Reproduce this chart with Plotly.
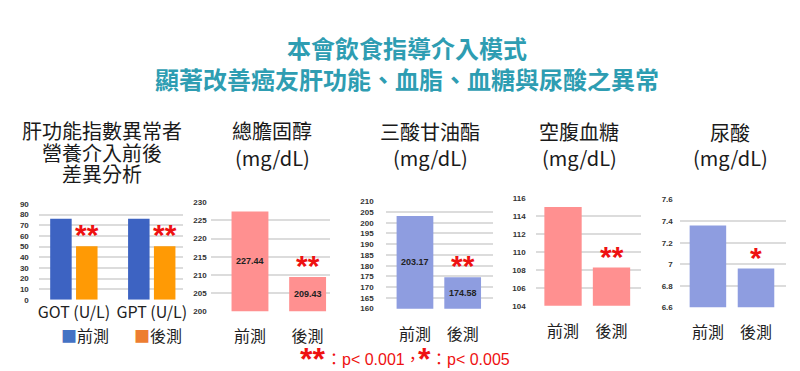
import plotly.graph_objects as go

W, H = 800, 371

# ---------------- data ----------------
liver_categories = ["GOT (U/L)", "GPT (U/L)"]
liver_pre = [76.0, 76.0]
liver_post = [50.4, 50.2]

phase_labels = ["前測", "後測"]
cholesterol = [227.44, 209.43]
triglyceride = [203.17, 174.58]
glucose = [115.0, 108.25]
uric_acid = [7.36, 6.96]

legend_names = ["前測", "後測"]
main_title = ["本會飲食指導介入模式", "顯著改善癌友肝功能、血脂、血糖與尿酸之異常"]
panel_titles = [
    ["肝功能指數異常者", "營養介入前後", "差異分析"],
    ["總膽固醇", "(mg/dL)"],
    ["三酸甘油酯", "(mg/dL)"],
    ["空腹血糖", "(mg/dL)"],
    ["尿酸", "(mg/dL)"],
]
sig_marks = ["**", "**", "**", "**", "*"]
footnote_marks = ["**", "*"]
footnote_texts = ["：p&lt; 0.001，", "：p&lt; 0.005"]

# ---------------- styling ----------------
CJK = "Noto Sans CJK TC"
TICKFONT = dict(family="Liberation Sans", size=8, color="#333333", weight="bold")
GRID = "#dcdcdc"
RED = "#ee1111"
TEAL = "#2e9db2"

def fx(px):
    return px / W

def fy(py):
    return 1 - py / H

fig = go.Figure()

# panel 1: grouped bars
fig.add_trace(go.Bar(x=liver_categories, y=liver_pre, name=legend_names[0],
                     marker=dict(color="#3d63c2", line=dict(width=0)),
                     width=0.276, offset=-0.304, xaxis="x", yaxis="y", showlegend=False))
fig.add_trace(go.Bar(x=liver_categories, y=liver_post, name=legend_names[1],
                     marker=dict(color="#ff9a05", line=dict(width=0)),
                     width=0.276, offset=0.028, xaxis="x", yaxis="y", showlegend=False))

pink = "#ff9090"
lav = "#8e9de0"
single = [
    (cholesterol, [pink, pink], 0.64),
    (triglyceride, [lav, lav], 0.77),
    (glucose, [pink, pink], 0.77),
    (uric_acid, [lav, lav], 0.76),
]
for i, (vals, cols, wd) in enumerate(single, start=2):
    fig.add_trace(go.Bar(
        x=phase_labels, y=vals, width=wd,
        marker=dict(color=cols, line=dict(width=0)),
        xaxis=f"x{i}", yaxis=f"y{i}", showlegend=False,
    ))

# axes geometry (pixels) : x-domain, x-range, y-domain(bottom,top), y-range, dtick, y standoff, x standoff
axes = [
    ((30, 175), (-0.45, 1.40), (295, 196.7), (0, 90), 10, 9, 1),
    ((203, 323), (-0.681, 1.388), (306.7, 195), (200, 230), 5, 3, 14),
    ((379, 487), (-0.615, 1.635), (304, 194), (160, 210), 5, 11, 14),
    ((530, 636), (-0.564, 1.609), (301, 190.7), (104, 116), 2, 9, 14),
    ((675, 781.7), (-0.585, 1.62), (302.7, 192.3), (6.6, 7.6), 0.2, 6, 14),
]

layout = dict(
    width=W, height=H, margin=dict(l=0, r=0, t=0, b=0),
    paper_bgcolor="white", plot_bgcolor="white",
    barmode="overlay", showlegend=False,
    font=dict(family=CJK, color="#1a1a1a"),
)
for i, (xd, xr, yd, yr, dt, ysoff, xsoff) in enumerate(axes, start=1):
    sx = "" if i == 1 else str(i)
    layout[f"xaxis{sx}"] = dict(
        domain=[fx(xd[0]), fx(xd[1])], range=list(xr), anchor=f"y{sx}",
        showgrid=False, zeroline=False, showline=False, ticks="",
        tickfont=dict(family=CJK, size=16, color="#222222"),
        ticklabelstandoff=xsoff, fixedrange=True,
    )
    layout[f"yaxis{sx}"] = dict(
        domain=[fy(yd[0]), fy(yd[1])], range=list(yr), anchor=f"x{sx}",
        dtick=dt, tick0=yr[0], showgrid=True, gridcolor=GRID, gridwidth=2,
        zeroline=False, showline=False, ticks="",
        tickfont=TICKFONT, ticklabelstandoff=ysoff, fixedrange=True,
    )
fig.update_layout(**layout)

ann = []
# main title
for text, py in zip(main_title, [36, 68]):
    ann.append(dict(text=f"<b>{text}</b>", x=0.5, y=fy(py), xref="paper", yref="paper",
                    xanchor="center", yanchor="middle", showarrow=False,
                    font=dict(family=CJK, size=24, color=TEAL)))
# panel titles
title_pos = [
    (94, [121, 144, 166]),
    (265, [121, 149]),
    (424, [122, 149]),
    (574, [122, 149]),
    (726, [123, 149]),
]
for lines, (cx, ys) in zip(panel_titles, title_pos):
    for t, py in zip(lines, ys):
        ann.append(dict(text=t, x=fx(cx), y=fy(py), xref="paper", yref="paper",
                        xanchor="center", yanchor="middle", showarrow=False,
                        font=dict(family=CJK, size=20, color="#1a1a1a")))
# value labels inside the bars (centre of the visible part of each bar)
for ax_i, vals in [(2, cholesterol), (3, triglyceride)]:
    base = axes[ax_i - 1][3][0]
    for k, v in enumerate(vals):
        ann.append(dict(text=f"<b>{v:.2f}</b>", x=k, y=(base + v) / 2,
                        xref=f"x{ax_i}", yref=f"y{ax_i}", xanchor="center", yanchor="middle",
                        showarrow=False,
                        font=dict(family="Liberation Sans", size=9, color="#222222")))
# significance marks
sig_targets = [
    ("x", "y", 0.166, liver_post[0]),
    ("x", "y", 1.166, liver_post[1]),
    ("x2", "y2", 1, cholesterol[1]),
    ("x3", "y3", 1, triglyceride[1]),
    ("x4", "y4", 1, glucose[1]),
    ("x5", "y5", 1, uric_acid[1]),
]
sig_for = [sig_marks[0], sig_marks[0], sig_marks[1], sig_marks[2], sig_marks[3], sig_marks[4]]
for (xr_, yr_, xv, yv), mk in zip(sig_targets, sig_for):
    ann.append(dict(text=f"<b>{mk}</b>", x=xv, y=yv, xref=xr_, yref=yr_,
                    xanchor="center", yanchor="bottom", yshift=-7, showarrow=False,
                    font=dict(family="Liberation Sans", size=30, color=RED)))
# legend (panel 1)
for name, col, px in zip(legend_names, ["#4472c4", "#ed7d31"], [50, 124]):
    ann.append(dict(text=f"<span style='color:{col}'>■</span>{name}", x=fx(px), y=fy(331),
                    xref="paper", yref="paper", xanchor="left", yanchor="middle",
                    showarrow=False, font=dict(family=CJK, size=16, color="#222222")))
# footnote: significance legend
for mk, cx in zip(footnote_marks, [305, 418]):
    ann.append(dict(text=f"<b>{mk}</b>", x=fx(cx), y=fy(356), xref="paper", yref="paper",
                    xanchor="center", yanchor="middle", showarrow=False,
                    font=dict(family="Liberation Sans", size=32, color=RED)))
for t, lx in zip(footnote_texts, [317, 423]):
    ann.append(dict(text=t, x=fx(lx), y=fy(356.5), xref="paper", yref="paper",
                    xanchor="left", yanchor="middle", showarrow=False,
                    font=dict(family="Liberation Sans, " + CJK, size=16, color=RED)))
fig.update_layout(annotations=ann)

fig.write_html("out.html")
